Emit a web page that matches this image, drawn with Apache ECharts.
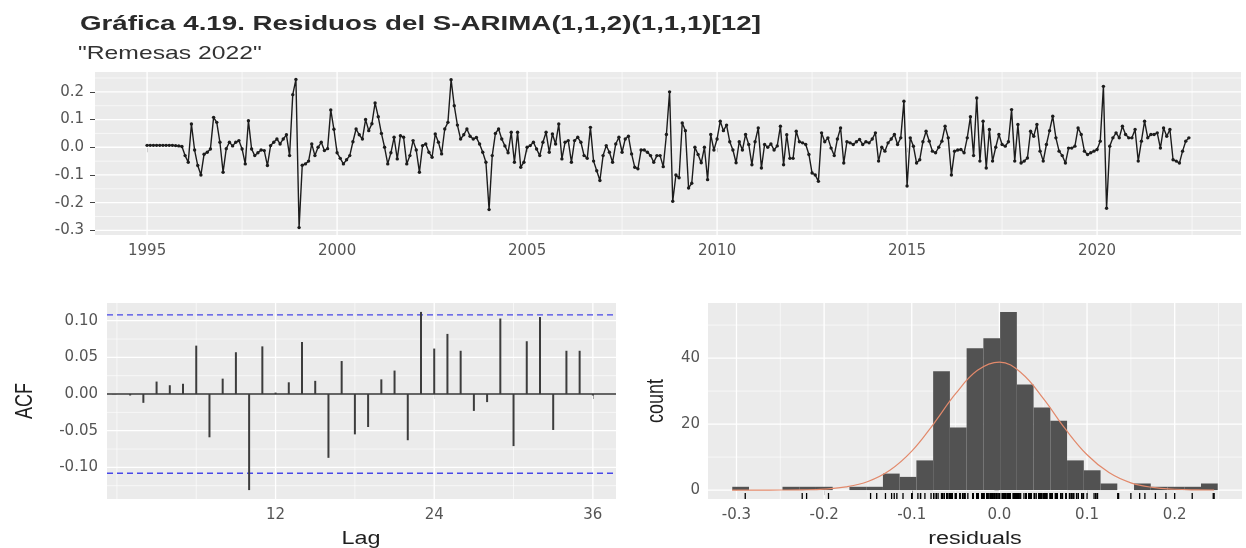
<!DOCTYPE html>
<html>
<head>
<meta charset="utf-8">
<script src="https://cdn.jsdelivr.net/npm/echarts@6.0.0/dist/echarts.min.js"></script>
<style>
  html, body { margin: 0; padding: 0; background: #ffffff; }
  #chart { width: 1246px; height: 548px; }
</style>
</head>
<body>
<div id="chart"></div>
<script>
// Residual diagnostics of the seasonal ARIMA model for remittances.
const TITLE = 'Gráfica 4.19. Residuos del S-ARIMA(1,1,2)(1,1,1)[12]';
const SUBTITLE = '"Remesas 2022"';

// Monthly residuals, January 1995 onwards
const FIRST_YEAR = 1995;
const residuals = [
  0.007, 0.007, 0.007, 0.007, 0.007, 0.007, 0.007, 0.007, 0.007, 0.006, 0.005, 0.003,
  -0.03, -0.054, 0.084, -0.01, -0.066, -0.1, -0.025, -0.018, -0.006, 0.108, 0.09, 0.018,
  -0.09, -0.005, 0.018, 0.005, 0.018, 0.024, -0.006, -0.06, 0.096, -0.006, -0.03, -0.02,
  -0.01, -0.012, -0.066, 0.006, 0.018, 0.03, 0.012, 0.03, 0.045, -0.03, 0.19, 0.245,
  -0.29, -0.065, -0.06, -0.05, 0.012, -0.03, 0.0, 0.018, -0.012, -0.005, 0.135, 0.065,
  -0.02, -0.04, -0.06, -0.045, -0.03, 0.02, 0.066, 0.045, 0.03, 0.1, 0.06, 0.085,
  0.16, 0.11, 0.05, 0.0, -0.06, -0.02, 0.036, -0.042, 0.042, 0.036, -0.06, -0.03,
  0.024, -0.01, -0.09, 0.006, 0.012, -0.018, -0.036, 0.048, 0.018, -0.024, 0.066, 0.09,
  0.244, 0.15, 0.08, 0.03, 0.045, 0.066, 0.04, 0.03, 0.035, 0.012, -0.018, -0.054,
  -0.225, -0.03, 0.05, 0.066, 0.03, 0.005, -0.02, 0.054, -0.054, 0.054, -0.072, -0.054,
  0.0, 0.006, 0.018, -0.006, -0.03, 0.018, 0.054, -0.018, 0.048, 0.012, 0.084, -0.042,
  0.018, 0.024, -0.054, 0.024, 0.036, 0.018, -0.03, -0.04, 0.072, -0.05, -0.085, -0.12,
  -0.03, 0.006, -0.018, -0.054, 0.012, 0.036, -0.018, 0.03, 0.04, -0.024, -0.072, -0.078,
  -0.01, -0.01, -0.018, -0.03, -0.054, -0.03, -0.03, -0.07, 0.046, 0.2, -0.195, -0.1,
  -0.11, 0.088, 0.06, -0.147, -0.13, 0.0, -0.026, -0.056, 0.0, -0.117, 0.046, -0.01,
  0.03, 0.094, 0.06, 0.08, 0.02, -0.01, -0.056, 0.02, -0.01, 0.046, 0.01, -0.063,
  0.02, 0.07, -0.075, 0.01, 0.0, 0.012, -0.01, 0.005, 0.076, -0.063, 0.045, -0.04,
  -0.04, 0.058, 0.02, 0.016, 0.01, -0.026, -0.093, -0.1, -0.123, 0.052, 0.02, 0.034,
  -0.003, -0.03, 0.03, 0.07, -0.057, 0.02, 0.016, 0.01, 0.02, 0.028, 0.01, 0.02,
  0.016, 0.03, 0.052, -0.05, 0.0, -0.014, 0.016, 0.03, 0.046, 0.01, 0.034, 0.166,
  -0.14, 0.034, 0.004, -0.057, -0.045, 0.02, 0.058, 0.022, -0.014, -0.02, 0.0, 0.022,
  0.076, 0.034, -0.1, -0.014, -0.01, -0.008, -0.02, 0.034, 0.11, -0.03, 0.178, -0.05,
  0.094, -0.075, 0.064, -0.05, 0.0, 0.046, 0.01, 0.004, 0.02, 0.136, -0.05, 0.082,
  -0.057, -0.05, -0.039, 0.058, 0.04, 0.082, -0.014, -0.05, 0.01, 0.06, 0.112, 0.034,
  -0.014, -0.03, -0.057, -0.003, -0.003, 0.004, 0.07, 0.046, -0.014, -0.026, -0.02, -0.014,
  -0.008, 0.022, 0.22, -0.22, 0.004, 0.034, 0.052, 0.034, 0.076, 0.046, 0.034, 0.034,
  0.064, -0.05, 0.022, 0.094, 0.034, 0.046, 0.046, 0.052, -0.003, 0.07, 0.04, 0.064,
  -0.045, -0.05, -0.057, -0.014, 0.022, 0.034
];

// Autocorrelations for lags 1..36 and the significance bound
const acfValues = [
  -0.002, -0.012, 0.017, 0.012, 0.014, 0.066, -0.059, 0.021, 0.057, -0.131, 0.065, 0.002,
  0.016, 0.071, 0.018, -0.087, 0.045, -0.055, -0.045, 0.020, 0.032, -0.063, 0.112, 0.062,
  0.082, 0.059, -0.023, -0.011, 0.103, -0.071, 0.072, 0.105, -0.049, 0.059, 0.059, -0.002
];
const acfBound = 0.108;

// Histogram of residuals: first bin edge, bin width and counts per bin
const histStart = -0.3048;
const histBinWidth = 0.0191;
const histCounts = [1, 0, 0, 1, 1, 1, 0, 1, 1, 5, 4, 9, 36, 19, 43, 46, 54, 32, 25, 21, 9, 6, 2, 0, 2, 1, 1, 1, 2];

// Fitted normal curve (in counts) over the residual range
const curveX = [-0.305, -0.275, -0.25, -0.225, -0.2, -0.175, -0.15, -0.125, -0.1, -0.075, -0.05, -0.025,
  0, 0.025, 0.05, 0.075, 0.1, 0.125, 0.15, 0.175, 0.2, 0.225, 0.245];
const curveCount = [0.0, 0.0, 0.02, 0.08, 0.31, 0.96, 2.6, 6.0, 11.8, 20.1, 29.2, 36.3,
  38.8, 35.5, 27.8, 18.6, 10.7, 5.3, 2.2, 0.81, 0.25, 0.06, 0.02];

// Axis breaks
const yearTicks = [1995, 2000, 2005, 2010, 2015, 2020];
const residTicks = [-0.3, -0.2, -0.1, 0.0, 0.1, 0.2];
const lagTicks = [12, 24, 36];
const acfTicks = [-0.10, -0.05, 0.00, 0.05, 0.10];
const countTicks = [0, 20, 40];

// ---- helpers -------------------------------------------------------------
function expand(lo, hi) {
  const d = (hi - lo) * 0.05;
  return [lo - d, hi + d];
}
function minorBreaks(majors, ext) {
  const step = majors[1] - majors[0];
  const out = [];
  const first = majors[0] - step, last = majors[majors.length - 1] + step;
  for (let k = 0; first + k * step / 2 <= last + 1e-9; k++) {
    const v = +(first + k * step / 2).toFixed(6);
    const isMajor = majors.some(m => Math.abs(m - v) < 1e-9);
    if (!isMajor && v >= ext[0] && v <= ext[1]) out.push(v);
  }
  return out;
}

const LABEL_FONT = 'DejaVu Sans';
const LABEL_COLOR = '#555555';
const PANEL_BG = '#EBEBEB';

function axis(gridIndex, ext, ticks, fmt, margin) {
  return {
    type: 'value', gridIndex, min: ext[0], max: ext[1],
    axisLine: { show: false },
    splitLine: { show: false },
    axisTick: { show: true, length: 5, lineStyle: { color: '#444', width: 1 }, customValues: ticks },
    axisLabel: {
      customValues: ticks, formatter: fmt, margin,
      color: LABEL_COLOR, fontSize: 15, fontFamily: LABEL_FONT
    }
  };
}

// Panel grid lines in the ggplot style: thin minor, wider major
function guides(idx, xExt, yExt, xMaj, yMaj) {
  const xMin = minorBreaks(xMaj, xExt), yMin = minorBreaks(yMaj, yExt);
  return {
    type: 'custom', xAxisIndex: idx, yAxisIndex: idx, silent: true, z: 1,
    data: [[xExt[0], yExt[0]]],
    renderItem(params, api) {
      const children = [];
      const seg = (a, b, w) => children.push({
        type: 'line', shape: { x1: a[0], y1: a[1], x2: b[0], y2: b[1] },
        style: { stroke: '#ffffff', lineWidth: w }
      });
      yMin.forEach(v => seg(api.coord([xExt[0], v]), api.coord([xExt[1], v]), 0.6));
      xMin.forEach(v => seg(api.coord([v, yExt[0]]), api.coord([v, yExt[1]]), 0.6));
      yMaj.forEach(v => seg(api.coord([xExt[0], v]), api.coord([xExt[1], v]), 1.3));
      xMaj.forEach(v => seg(api.coord([v, yExt[0]]), api.coord([v, yExt[1]]), 1.3));
      return { type: 'group', children };
    }
  };
}

// ---- extents -------------------------------------------------------------
const lastYear = FIRST_YEAR + (residuals.length - 1) / 12;
const tsX = expand(FIRST_YEAR, lastYear);
const tsY = expand(Math.min(...residuals), Math.max(...residuals));
const acfX = expand(1, acfValues.length);
const acfY = expand(Math.min(Math.min(...acfValues), -acfBound), Math.max(Math.max(...acfValues), acfBound));
const histX = expand(histStart, histStart + histCounts.length * histBinWidth);
const histY = expand(0, Math.max(...histCounts));

const tsData = residuals.map((v, i) => [FIRST_YEAR + i / 12, v]);
const acfData = acfValues.map((v, i) => [i + 1, v]);
const histData = histCounts.map((c, i) => [histStart + i * histBinWidth, c]);
const curveData = curveX.map((x, i) => [x, curveCount[i]]);

const f1 = v => v.toFixed(1);
const f2 = v => v.toFixed(2);
const f0 = v => String(Math.round(v));

const chart = echarts.init(document.getElementById('chart'), null, { renderer: 'canvas' });

chart.setOption({
  animation: false,
  backgroundColor: '#ffffff',
  grid: [
    { left: 95, top: 72, width: 1146, height: 163, show: true, backgroundColor: PANEL_BG, borderWidth: 0 },
    { left: 107, top: 303, width: 509, height: 196, show: true, backgroundColor: PANEL_BG, borderWidth: 0 },
    { left: 708, top: 303, width: 534, height: 196, show: true, backgroundColor: PANEL_BG, borderWidth: 0 }
  ],
  xAxis: [
    axis(0, tsX, yearTicks, f0, 9),
    axis(1, acfX, lagTicks, f0, 9),
    axis(2, histX, residTicks, f1, 9)
  ],
  yAxis: [
    axis(0, tsY, residTicks, f1, 11),
    axis(1, acfY, acfTicks, f2, 9),
    axis(2, histY, countTicks, f0, 8)
  ],
  series: [
    guides(0, tsX, tsY, yearTicks, residTicks),
    guides(1, acfX, acfY, lagTicks, acfTicks),
    guides(2, histX, histY, residTicks, countTicks),

    // residual time series with points
    {
      type: 'line', xAxisIndex: 0, yAxisIndex: 0, z: 3,
      data: tsData, showSymbol: true, symbol: 'circle', symbolSize: 3.4,
      itemStyle: { color: '#1c1c1c' },
      lineStyle: { color: '#1c1c1c', width: 1.4 },
      silent: true
    },

    // ACF reference lines: zero and the significance bounds
    {
      type: 'custom', xAxisIndex: 1, yAxisIndex: 1, z: 2, silent: true,
      data: [[acfX[0], 0]],
      renderItem(params, api) {
        const h = (v, style) => {
          const a = api.coord([acfX[0], v]), b = api.coord([acfX[1], v]);
          return { type: 'line', shape: { x1: a[0], y1: a[1], x2: b[0], y2: b[1] }, style };
        };
        return {
          type: 'group', children: [
            h(0, { stroke: '#333333', lineWidth: 1.4 }),
            h(acfBound, { stroke: '#4848e8', lineWidth: 1.3, lineDash: [6, 4] }),
            h(-acfBound, { stroke: '#4848e8', lineWidth: 1.3, lineDash: [6, 4] })
          ]
        };
      }
    },
    // ACF spikes
    {
      type: 'custom', xAxisIndex: 1, yAxisIndex: 1, z: 3, silent: true,
      data: acfData,
      renderItem(params, api) {
        const lag = api.value(0), v = api.value(1);
        const a = api.coord([lag, 0]), b = api.coord([lag, v]);
        return { type: 'line', shape: { x1: a[0], y1: a[1], x2: b[0], y2: b[1] },
          style: { stroke: '#3c3c3c', lineWidth: 2 } };
      }
    },

    // histogram bars
    {
      type: 'custom', xAxisIndex: 2, yAxisIndex: 2, z: 3, silent: true,
      data: histData,
      renderItem(params, api) {
        const x0 = api.value(0), c = api.value(1);
        if (!c) return null;
        const p0 = api.coord([x0, 0]), p1 = api.coord([x0 + histBinWidth, c]);
        return { type: 'rect', shape: { x: p0[0], y: p1[1], width: p1[0] - p0[0], height: p0[1] - p1[1] },
          style: { fill: '#525252' } };
      }
    },
    // fitted normal curve
    {
      type: 'line', xAxisIndex: 2, yAxisIndex: 2, z: 4, silent: true,
      data: curveData, smooth: 0.4, showSymbol: false,
      lineStyle: { color: '#E2896B', width: 1.2 }
    },
    // rug of the residuals along the bottom of the histogram panel
    {
      type: 'custom', xAxisIndex: 2, yAxisIndex: 2, z: 4, silent: true,
      data: residuals.map(v => [v, histY[0]]),
      renderItem(params, api) {
        const p = api.coord([api.value(0), api.value(1)]);
        return { type: 'line', shape: { x1: p[0], y1: p[1], x2: p[0], y2: p[1] - 6 },
          style: { stroke: '#000000', lineWidth: 1.3 } };
      }
    }
  ],
  graphic: [
    { type: 'text', x: 80, y: 24, scaleX: 1.32, silent: true,
      style: { text: TITLE, font: 'bold 21px "Liberation Sans", Arial, sans-serif', fill: '#2a2a2a', verticalAlign: 'middle' } },
    { type: 'text', x: 78, y: 54, scaleX: 1.3, silent: true,
      style: { text: SUBTITLE, font: '19px "Liberation Sans", Arial, sans-serif', fill: '#333333', verticalAlign: 'middle' } },
    { type: 'text', x: 361, y: 539, scaleX: 1.3, silent: true,
      style: { text: 'Lag', font: '18px "Liberation Sans", Arial, sans-serif', fill: '#1f1f1f', align: 'center', verticalAlign: 'middle' } },
    { type: 'text', x: 975, y: 539, scaleX: 1.3, silent: true,
      style: { text: 'residuals', font: '18px "Liberation Sans", Arial, sans-serif', fill: '#1f1f1f', align: 'center', verticalAlign: 'middle' } },
    { type: 'text', x: 26, y: 401, rotation: Math.PI / 2, scaleY: 1.3, silent: true,
      style: { text: 'ACF', font: '18px "Liberation Sans", Arial, sans-serif', fill: '#1f1f1f', align: 'center', verticalAlign: 'middle' } },
    { type: 'text', x: 657, y: 401, rotation: Math.PI / 2, scaleY: 1.3, silent: true,
      style: { text: 'count', font: '18px "Liberation Sans", Arial, sans-serif', fill: '#1f1f1f', align: 'center', verticalAlign: 'middle' } }
  ]
});
</script>
</body>
</html>
